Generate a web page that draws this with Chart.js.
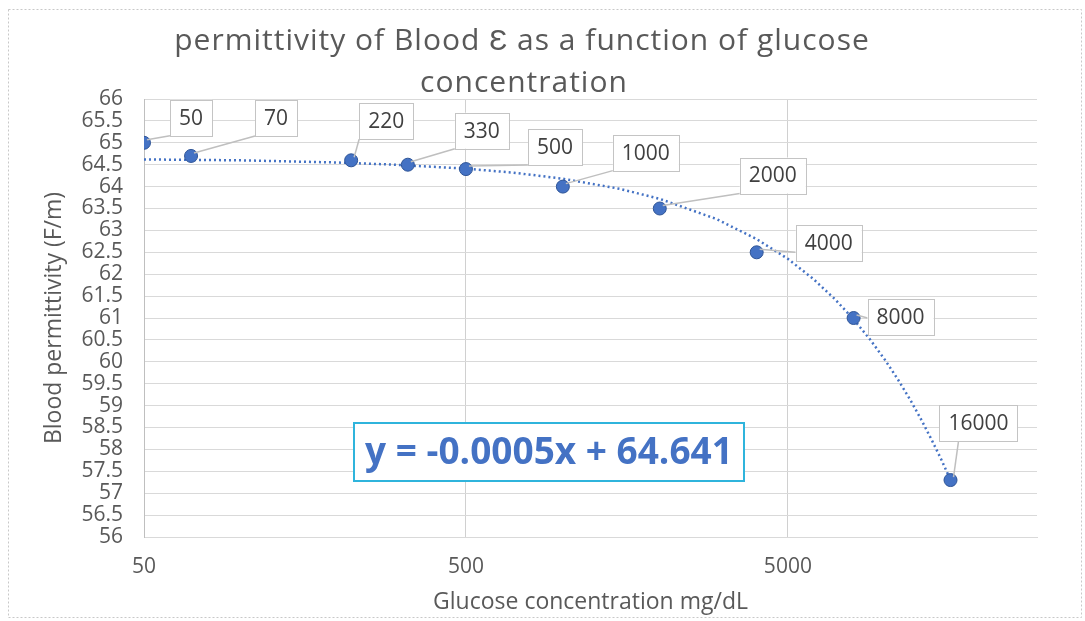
<!DOCTYPE html>
<html>
<head>
<meta charset="utf-8">
<script src="https://cdn.jsdelivr.net/npm/chart.js@4.4.1/dist/chart.umd.min.js"></script>
<style>
  html, body { margin: 0; padding: 0; background: #fff; }
  #wrap { width: 1085px; height: 621px; position: relative; }
</style>
</head>
<body>
<div id="wrap"><canvas id="glucoseChart"></canvas></div>
<script>
// measured points (glucose mg/dL -> blood permittivity)
const glucose = [50, 70, 220, 330, 500, 1000, 2000, 4000, 8000, 16000];
const permittivity = [65.0, 64.7, 64.6, 64.5, 64.4, 64.0, 63.5, 62.5, 61.0, 57.3];

// linear trendline (curves on the log axis)
const trendX = [50, 100, 200, 300, 500, 700, 1000, 1500, 2000, 3000, 4000, 5000, 6000, 7000, 8000, 9000, 10000, 11000, 12000, 13000, 14000, 15000, 16000];
const trendY = [64.62, 64.60, 64.55, 64.50, 64.41, 64.32, 64.18, 63.95, 63.72, 63.26, 62.80, 62.35, 61.89, 61.43, 60.97, 60.51, 60.05, 59.59, 59.13, 58.67, 58.21, 57.76, 57.30];

const xTicks = [50, 500, 5000];
const titleLines = ["permittivity of Blood Ɛ as a function of glucose", "concentration"];
const equationText = "y = -0.0005x + 64.641";

// callout box offsets from each point (box centre)
const calloutOffsets = [[47, -25], [85, -38], [35, -39], [74, -34], [89, -22], [83, -34], [113, -33], [72, -9], [47, -1], [28, -57]];

const grey = "#595959";
const fontFam = "'Open Sans', sans-serif";

const frameAndTitle = {
  id: "frameAndTitle",
  beforeDraw(chart) {
    const ctx = chart.ctx;
    ctx.save();
    ctx.fillStyle = "#fff";
    ctx.fillRect(0, 0, chart.width, chart.height);
    ctx.strokeStyle = "#c8c8c8";
    ctx.lineWidth = 1;
    ctx.setLineDash([2, 2]);
    ctx.strokeRect(8.5, 9.5, 1073, 608);
    ctx.restore();
  },
  afterDraw(chart) {
    const ctx = chart.ctx;
    ctx.save();
    ctx.fillStyle = grey;
    ctx.font = "30px " + fontFam;
    ctx.letterSpacing = "1px";
    ctx.textAlign = "center";
    ctx.textBaseline = "middle";
    ctx.fillText(titleLines[0], 522, 41);
    ctx.fillText(titleLines[1], 524, 83);
    ctx.restore();
  }
};

const callouts = {
  id: "callouts",
  afterDatasetsDraw(chart) {
    const ctx = chart.ctx;
    const meta = chart.getDatasetMeta(0);
    ctx.save();
    ctx.font = "21px " + fontFam;
    ctx.textAlign = "center";
    ctx.textBaseline = "middle";
    meta.data.forEach((pt, i) => {
      const label = String(glucose[i]);
      const w = ctx.measureText(label).width + 18;
      const h = 36;
      const cx = pt.x + calloutOffsets[i][0];
      const cy = pt.y + calloutOffsets[i][1];
      const l = cx - w / 2, t = cy - h / 2;
      // leader line to nearest part of the box
      const ax = Math.min(Math.max(pt.x, l), l + w);
      const ay = Math.min(Math.max(pt.y, t), t + h);
      ctx.strokeStyle = "#bfbfbf";
      ctx.lineWidth = 1.5;
      ctx.beginPath();
      ctx.moveTo(pt.x + 3, pt.y - 3);
      ctx.lineTo(ax + (ax === l ? 0 : 8), ay);
      ctx.stroke();
      ctx.fillStyle = "#fff";
      ctx.fillRect(l, t, w, h);
      ctx.strokeStyle = "#c4c4c4";
      ctx.lineWidth = 1;
      ctx.strokeRect(Math.round(l) + 0.5, Math.round(t) + 0.5, Math.round(w), h);
      ctx.fillStyle = "#404040";
      ctx.fillText(label, cx, cy + 1);
    });

    // trendline equation
    ctx.fillStyle = "#fff";
    ctx.fillRect(354, 423, 390, 58);
    ctx.strokeStyle = "#2fb4dc";
    ctx.lineWidth = 2;
    ctx.strokeRect(354, 423, 390, 58);
    ctx.fillStyle = "#4472c4";
    ctx.font = "bold 37px " + fontFam;
    ctx.fillText(equationText, 549, 453);
    ctx.restore();
  }
};

new Chart(document.getElementById("glucoseChart"), {
  type: "scatter",
  data: {
    datasets: [
      {
        label: "permittivity",
        data: glucose.map((g, i) => ({ x: g, y: permittivity[i] })),
        backgroundColor: "#4472c4",
        borderColor: "#2f5597",
        borderWidth: 1,
        pointRadius: 6.5,
      },
      {
        label: "trend",
        data: trendX.map((g, i) => ({ x: g, y: trendY[i] })),
        showLine: true,
        pointRadius: 0,
        borderColor: "#4472c4",
        borderWidth: 2.5,
        borderDash: [2, 3],
        tension: 0,
      },
    ],
  },
  options: {
    responsive: true,
    maintainAspectRatio: false,
    animation: false,
    layout: { padding: { top: 99, right: 48, bottom: 0, left: 0 } },
    plugins: {
      legend: { display: false },
      tooltip: { enabled: false },
      title: { display: false },
    },
    scales: {
      x: {
        type: "logarithmic",
        min: 50,
        max: 29700,
        afterBuildTicks: (scale) => {
          scale.ticks = xTicks.map((v) => ({ value: v }));
        },
        afterFit: (scale) => { scale.height = 84; },
        ticks: {
          autoSkip: false,
          maxRotation: 0,
          padding: 17,
          color: grey,
          font: { family: fontFam, size: 21 },
          callback: (v) => String(v),
        },
        grid: { color: "#d0d0d0", drawTicks: false },
        border: { display: true, color: "#d9d9d9" },
        title: {
          display: true,
          text: "Glucose concentration mg/dL",
          color: grey,
          font: { family: fontFam, size: 23 },
          padding: { top: 0, bottom: 5 },
        },
      },
      y: {
        min: 56,
        max: 66,
        afterFit: (scale) => { scale.width = 144; },
        ticks: {
          stepSize: 0.5,
          autoSkip: false,
          padding: 21,
          color: grey,
          font: { family: fontFam, size: 21 },
          callback: (v) => String(v),
        },
        grid: { color: "#d9d9d9", drawTicks: false },
        border: { display: true, color: "#bfbfbf" },
        title: {
          display: true,
          text: "Blood permittivity (F/m)",
          color: grey,
          font: { family: fontFam, size: 23 },
          padding: { top: 41, bottom: 0 },
        },
      },
    },
  },
  plugins: [frameAndTitle, callouts],
});
</script>
</body>
</html>
